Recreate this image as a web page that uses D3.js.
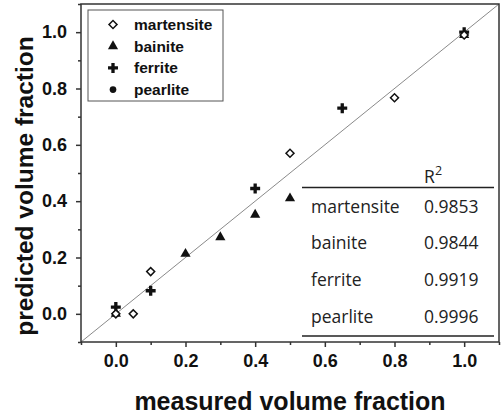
<!DOCTYPE html>
<html>
<head>
<meta charset="utf-8">
<script src="https://cdn.jsdelivr.net/npm/d3@7"></script>
<style>
  body { margin: 0; background: #fff; }
  svg { display: block; }
</style>
</head>
<body>
<div id="chart"></div>
<script>
// data
const martensite = [[0.0, 0.0], [0.05, 0.0], [0.1, 0.15], [0.5, 0.57], [0.8, 0.767], [1.0, 0.99]];
const bainite = [[0.0, 0.0], [0.2, 0.213], [0.3, 0.272], [0.4, 0.352], [0.5, 0.41], [1.0, 0.99]];
const ferrite = [[0.0, 0.024], [0.1, 0.082], [0.4, 0.445], [0.65, 0.73], [1.0, 1.0]];
const pearlite = [[0.0, 0.0], [1.0, 0.99]];

const phases = ["martensite", "bainite", "ferrite", "pearlite"];
const r2 = ["0.9853", "0.9844", "0.9919", "0.9996"];
const ticks = [0.0, 0.2, 0.4, 0.6, 0.8, 1.0];
const minorTicks = [-0.1, 0.1, 0.3, 0.5, 0.7, 0.9, 1.1];

const width = 501, height = 417;
const mLeft = 81, mRight = 499, mTop = 4, mBottom = 342;

const x = d3.scaleLinear().domain([-0.1, 1.1]).range([mLeft, mRight]);
const y = d3.scaleLinear().domain([-0.1, 1.1]).range([mBottom, mTop]);

const svg = d3.select("#chart").append("svg")
  .attr("width", width).attr("height", height);

// diagonal y = x
svg.append("line")
  .attr("x1", x(-0.1)).attr("y1", y(-0.1))
  .attr("x2", x(1.1)).attr("y2", y(1.1))
  .attr("stroke", "#8a8a8a").attr("stroke-width", 1);

// frame
svg.append("rect")
  .attr("x", mLeft).attr("y", mTop)
  .attr("width", mRight - mLeft).attr("height", mBottom - mTop)
  .attr("fill", "none").attr("stroke", "#333").attr("stroke-width", 1.5);

// axes
const fmt = d3.format(".1f");
svg.append("g").attr("transform", `translate(0,${mBottom})`)
  .call(d3.axisBottom(x).tickValues(ticks).tickFormat(fmt).tickSize(5).tickPadding(7));
svg.append("g").attr("transform", `translate(0,${mBottom})`)
  .call(d3.axisBottom(x).tickValues(minorTicks).tickFormat("").tickSize(3));
svg.append("g").attr("transform", `translate(${mLeft},0)`)
  .call(d3.axisLeft(y).tickValues(ticks).tickFormat(fmt).tickSize(5).tickPadding(9));
svg.append("g").attr("transform", `translate(${mLeft},0)`)
  .call(d3.axisLeft(y).tickValues(minorTicks).tickFormat("").tickSize(3));

svg.selectAll(".domain").remove();
svg.selectAll(".tick line").attr("stroke", "#333").attr("stroke-width", 1.5);
svg.selectAll(".tick text")
  .attr("fill", "#111")
  .style("font-family", "Liberation Sans, Arial, sans-serif")
  .style("font-weight", "bold")
  .style("font-size", "18px");

// axis titles
svg.append("text")
  .attr("x", 290).attr("y", 410)
  .attr("text-anchor", "middle")
  .style("font-family", "Liberation Sans, Arial, sans-serif")
  .style("font-weight", "bold").style("font-size", "25px")
  .attr("fill", "#111")
  .text("measured volume fraction");

svg.append("text")
  .attr("transform", "translate(33,186) rotate(-90)")
  .attr("text-anchor", "middle")
  .style("font-family", "Liberation Sans, Arial, sans-serif")
  .style("font-weight", "bold").style("font-size", "24.5px")
  .attr("fill", "#111")
  .text("predicted volume fraction");

// symbols
const sym = {
  martensite: d3.symbol().type(d3.symbolSquare).size(32),
  bainite: d3.symbol().type(d3.symbolTriangle).size(45),
  ferrite: d3.symbol().type(d3.symbolCross).size(55),
  pearlite: d3.symbol().type(d3.symbolCircle).size(35)
};
const rot = { martensite: 45, bainite: 0, ferrite: 0, pearlite: 0 };
function styleSym(sel, name) {
  if (name === "martensite") {
    sel.attr("fill", "#fff").attr("stroke", "#111").attr("stroke-width", 1.5);
  } else {
    sel.attr("fill", "#111").attr("stroke", "none");
  }
}

const series = { martensite, bainite, ferrite, pearlite };
// draw in reverse so open diamonds sit on top
["pearlite", "ferrite", "bainite", "martensite"].forEach(name => {
  svg.append("g").selectAll("path")
    .data(series[name])
    .join("path")
    .attr("d", sym[name])
    .attr("transform", d => `translate(${x(d[0])},${y(d[1])}) rotate(${rot[name]})`)
    .call(styleSym, name);
});

// legend
const legend = svg.append("g");
legend.append("rect")
  .attr("x", 88).attr("y", 10).attr("width", 135).attr("height", 91)
  .attr("fill", "#fff").attr("stroke", "#555").attr("stroke-width", 1);
phases.forEach((name, i) => {
  const cy = 24.5 + i * 21.7;
  legend.append("path")
    .attr("d", sym[name])
    .attr("transform", `translate(113,${cy}) rotate(${rot[name]})`)
    .call(styleSym, name);
  legend.append("text")
    .attr("x", 134).attr("y", cy + 5.5)
    .style("font-family", "Liberation Sans, Arial, sans-serif")
    .style("font-weight", "bold").style("font-size", "15.5px")
    .attr("fill", "#111")
    .text(name);
});

// R² table
const tbl = svg.append("g")
  .style("font-family", "Open Sans, Liberation Sans, sans-serif")
  .style("font-size", "17.5px")
  .attr("fill", "#222");
tbl.append("rect").attr("x", 302).attr("y", 188).attr("width", 193).attr("height", 149)
  .attr("fill", "#fff");
tbl.append("text").attr("x", 424).attr("y", 183).text("R");
tbl.append("text").attr("x", 435).attr("y", 175).style("font-size", "12.5px").text("2");
tbl.append("line").attr("x1", 302).attr("x2", 494).attr("y1", 187.5).attr("y2", 187.5)
  .attr("stroke", "#222").attr("stroke-width", 1.3);
tbl.append("line").attr("x1", 302).attr("x2", 494).attr("y1", 336).attr("y2", 336)
  .attr("stroke", "#222").attr("stroke-width", 1.3);
phases.forEach((name, i) => {
  const ty = 212.5 + i * 36.8;
  tbl.append("text").attr("x", 311).attr("y", ty).text(name);
  tbl.append("text").attr("x", 424).attr("y", ty).text(r2[i]);
});
</script>
</body>
</html>
